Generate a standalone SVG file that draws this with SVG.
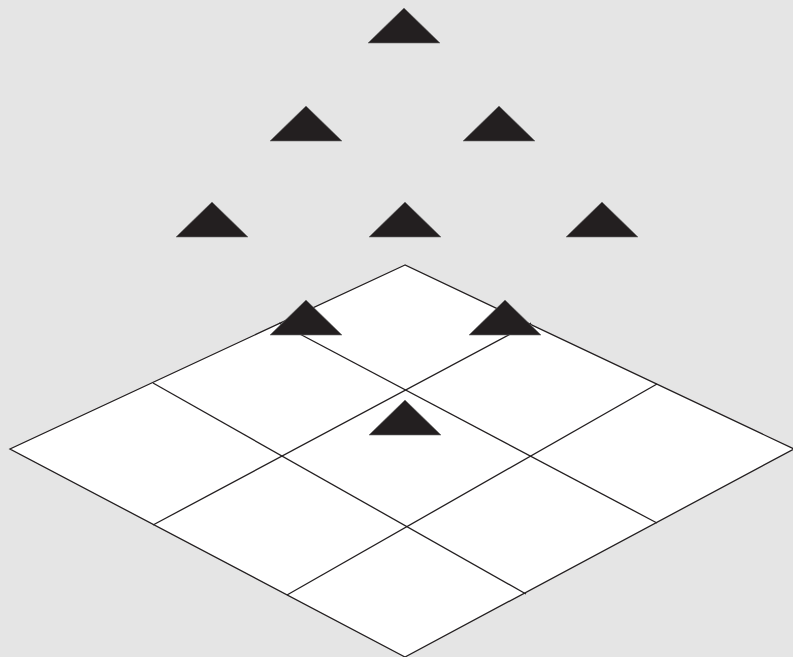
<svg xmlns="http://www.w3.org/2000/svg" xmlns:xlink="http://www.w3.org/1999/xlink" width="793" height="657" viewBox="0 0 793 657">
<style>
.bg{fill:#e5e5e5}
.board{fill:#ffffff;stroke:#231f20;stroke-width:1.3;stroke-linejoin:miter}
.grid line{stroke:#231f20;stroke-width:1.3}
.tri{fill:#231f20;stroke:#6d6d6d;stroke-width:0.6}
</style>
<defs>
<polygon id="t" class="tri" points="0,0 36,-35 72,0"/>
</defs>
<rect class="bg" x="0" y="0" width="793" height="657"/>
<g id="board">
<polygon class="board" points="405,265 10,449 405,657 794,449"/>
</g>
<g id="connectors" class="grid">
<line x1="153" y1="383" x2="526" y2="594"/>
<line x1="279" y1="323" x2="657" y2="523"/>
<line x1="657" y1="384" x2="287" y2="595"/>
<line x1="531" y1="323" x2="153" y2="525"/>
</g>
<g id="tri-1"><use xlink:href="#t" x="368" y="43"/></g>
<g id="tri-2"><use xlink:href="#t" x="270" y="141"/></g>
<g id="tri-3"><use xlink:href="#t" x="463" y="141"/></g>
<g id="tri-4"><use xlink:href="#t" x="176" y="237"/></g>
<g id="tri-5"><use xlink:href="#t" x="369" y="237"/></g>
<g id="tri-6"><use xlink:href="#t" x="566" y="237"/></g>
<g id="tri-7"><use xlink:href="#t" x="270" y="335"/></g>
<g id="tri-8"><use xlink:href="#t" x="469" y="335"/></g>
<g id="tri-9"><use xlink:href="#t" x="369" y="435"/></g>
</svg>
